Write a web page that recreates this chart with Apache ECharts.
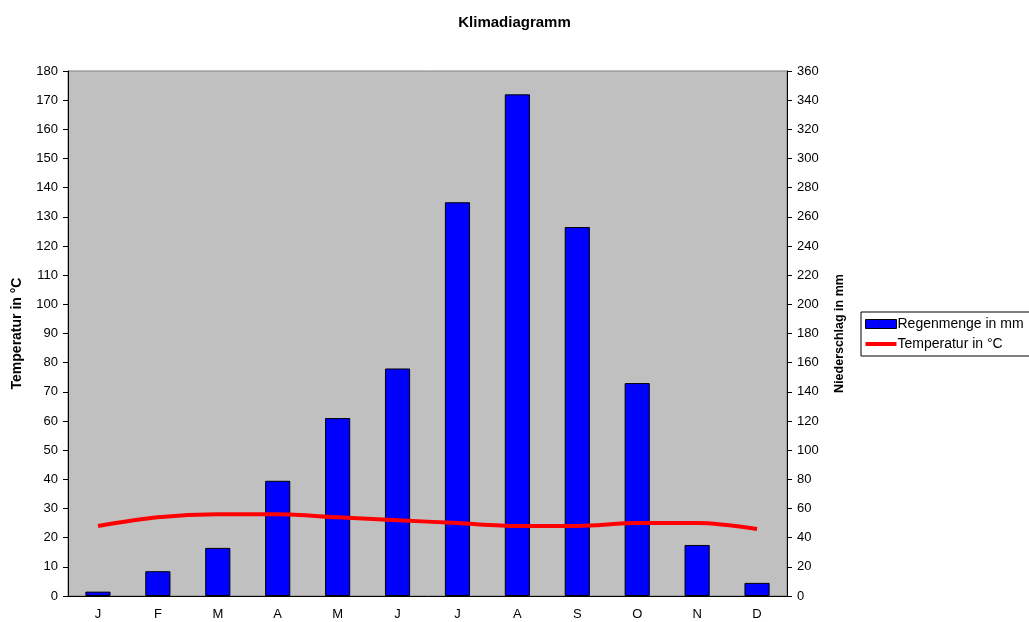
<!DOCTYPE html>
<html>
<head>
<meta charset="utf-8">
<script src="https://cdn.jsdelivr.net/npm/echarts@6/dist/echarts.min.js"></script>
<style>
  html, body { margin: 0; padding: 0; background: #fff; }
  #chart { width: 1029px; height: 622px; }
</style>
</head>
<body>
<div id="chart"></div>
<script>
const months = ['J', 'F', 'M', 'A', 'M', 'J', 'J', 'A', 'S', 'O', 'N', 'D'];
const rainfall = [3, 17, 33, 79, 122, 156, 270, 344, 253, 146, 35, 9];
const temperature = [24, 27, 28, 28, 27, 26, 25, 24, 24, 25, 25, 23];

const font = 'Liberation Sans, Arial, sans-serif';
const chart = echarts.init(document.getElementById('chart'));

chart.setOption({
  animation: false,
  textStyle: { fontFamily: font },
  title: {
    text: 'Klimadiagramm',
    left: 'center',
    top: 10,
    textStyle: { fontSize: 15, fontWeight: 'bold', color: '#000', fontFamily: font }
  },
  grid: {
    left: 68,
    right: 242,
    top: 71,
    bottom: 26,
    show: true,
    backgroundColor: '#c0c0c0',
    borderColor: '#808080',
    borderWidth: 1
  },
  legend: {
    orient: 'vertical',
    left: 861,
    top: 312,
    padding: [5, 10, 5, 4],
    itemGap: 6,
    itemWidth: 31,
    itemHeight: 9,
    borderColor: '#000',
    borderWidth: 1,
    textStyle: { fontSize: 14, color: '#000', fontFamily: font, padding: [0, 0, 0, -4] },
    data: [
      { name: 'Regenmenge in mm', icon: 'rect', itemStyle: { borderColor: '#000', borderWidth: 1 } },
      { name: 'Temperatur in °C', icon: 'path://M0,0H100V13H0Z', itemStyle: { color: '#ff0000', borderWidth: 0 } }
    ]
  },
  xAxis: {
    type: 'category',
    data: months,
    boundaryGap: true,
    axisLine: { lineStyle: { color: '#000', width: 1 } },
    axisTick: { length: 5, lineStyle: { color: '#000' } },
    axisLabel: { fontSize: 13, color: '#000', margin: 12 }
  },
  yAxis: [
    {
      type: 'value',
      min: 0,
      max: 180,
      interval: 10,
      name: 'Temperatur in °C',
      nameLocation: 'middle',
      nameGap: 44,
      nameTextStyle: { fontSize: 14, fontWeight: 'bold', color: '#000' },
      axisLine: { show: true, lineStyle: { color: '#000' } },
      axisTick: { show: true, length: 5, lineStyle: { color: '#000' } },
      axisLabel: { fontSize: 13, color: '#000', margin: 10 },
      splitLine: { show: false }
    },
    {
      type: 'value',
      min: 0,
      max: 360,
      interval: 20,
      name: 'Niederschlag in mm',
      nameLocation: 'middle',
      nameGap: 46,
      nameRotate: 90,
      nameTextStyle: { fontSize: 12.5, fontWeight: 'bold', color: '#000' },
      axisLine: { show: true, lineStyle: { color: '#000' } },
      axisTick: { show: true, length: 5, lineStyle: { color: '#000' } },
      axisLabel: { fontSize: 13, color: '#000', margin: 10 },
      splitLine: { show: false }
    }
  ],
  series: [
    {
      name: 'Regenmenge in mm',
      type: 'bar',
      yAxisIndex: 1,
      data: rainfall,
      barWidth: '42%',
      itemStyle: { color: '#0000ff', borderColor: '#000', borderWidth: 1 }
    },
    {
      name: 'Temperatur in °C',
      type: 'line',
      yAxisIndex: 0,
      data: temperature,
      smooth: 0.3,
      symbol: 'none',
      lineStyle: { color: '#ff0000', width: 4 },
      itemStyle: { color: '#ff0000' }
    }
  ]
});
</script>
</body>
</html>
